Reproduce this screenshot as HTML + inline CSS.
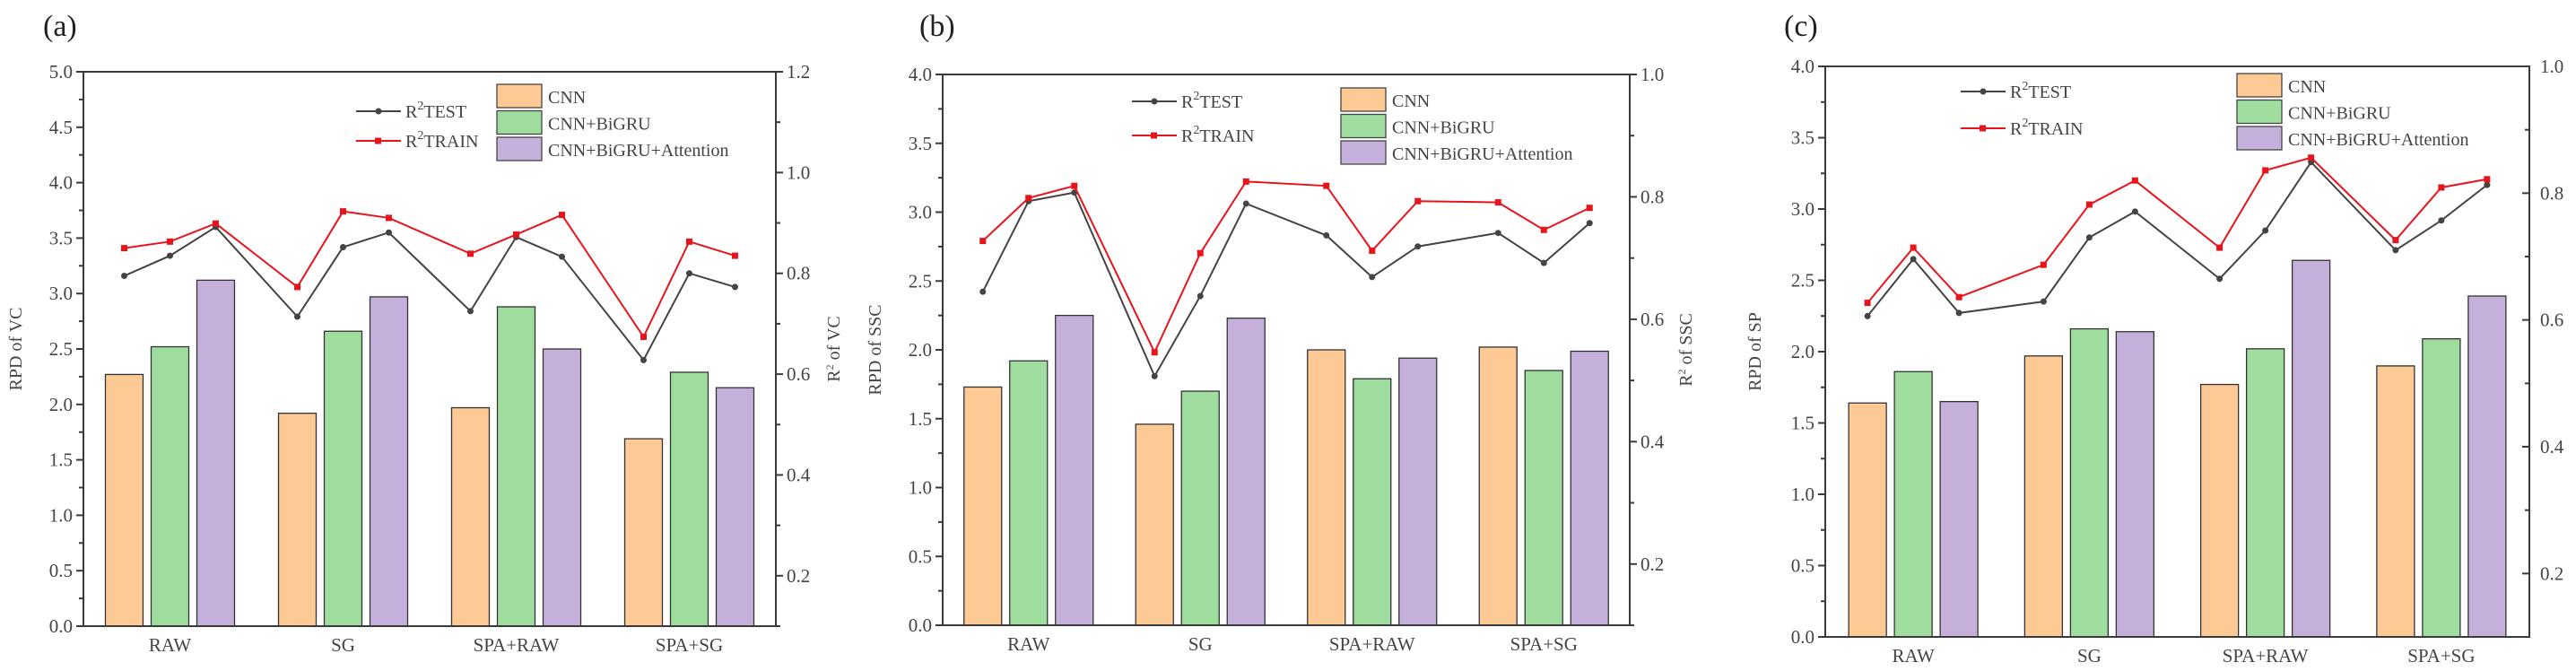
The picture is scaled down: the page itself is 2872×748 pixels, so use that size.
<!DOCTYPE html>
<html><head><meta charset="utf-8"><style>
html,body{margin:0;padding:0;background:#fff;}
svg{display:block;font-family:"Liberation Serif",serif;}
</style></head><body>
<svg id="chart" width="2872" height="748" viewBox="0 0 2872 748" xmlns="http://www.w3.org/2000/svg"></svg>
<script>
const categories = ["RAW","SG","SPA+RAW","SPA+SG"];
const seriesNames = ["CNN","CNN+BiGRU","CNN+BiGRU+Attention"];
// Panel a (VC)
const aCnn = [2.27,1.92,1.97,1.69];
const aBigru = [2.52,2.66,2.88,2.29];
const aAtt = [3.12,2.97,2.50,2.15];
const aTest = [0.795,0.835,0.892,0.714,0.852,0.881,0.725,0.872,0.833,0.628,0.800,0.773];
const aTrain = [0.850,0.863,0.899,0.773,0.923,0.910,0.839,0.877,0.916,0.674,0.863,0.835];
const aLeftTicks = ["0.0","0.5","1.0","1.5","2.0","2.5","3.0","3.5","4.0","4.5","5.0"];
const aRightTicks = ["0.2","0.4","0.6","0.8","1.0","1.2"];
// Panel b (SSC)
const bCnn = [1.73,1.46,2.00,2.02];
const bBigru = [1.92,1.70,1.79,1.85];
const bAtt = [2.25,2.23,1.94,1.99];
const bTest = [0.645,0.793,0.807,0.507,0.638,0.789,0.737,0.669,0.719,0.741,0.692,0.757];
const bTrain = [0.728,0.798,0.818,0.546,0.708,0.825,0.818,0.712,0.793,0.791,0.746,0.782];
const bLeftTicks = ["0.0","0.5","1.0","1.5","2.0","2.5","3.0","3.5","4.0"];
const bRightTicks = ["0.2","0.4","0.6","0.8","1.0"];
// Panel c (SP)
const cCnn = [1.64,1.97,1.77,1.90];
const cBigru = [1.86,2.16,2.02,2.09];
const cAtt = [1.65,2.14,2.64,2.39];
const cTest = [0.606,0.696,0.611,0.629,0.730,0.771,0.665,0.741,0.849,0.710,0.757,0.813];
const cTrain = [0.627,0.714,0.636,0.687,0.782,0.820,0.714,0.836,0.856,0.726,0.809,0.822];
const cLeftTicks = ["0.0","0.5","1.0","1.5","2.0","2.5","3.0","3.5","4.0"];
const cRightTicks = ["0.2","0.4","0.6","0.8","1.0"];

const NS="http://www.w3.org/2000/svg";
const svg=document.getElementById('chart');
function mk(tag,attrs,parent,text){const e=document.createElementNS(NS,tag);for(const k in attrs)e.setAttribute(k,attrs[k]);if(text!==undefined)e.textContent=text;(parent||svg).appendChild(e);return e;}
const colors=["#fdc994","#9edd9e","#c5b0dc"];
const AX="#3a3a3a", TXT="#444";

function panel(o){
  const g=mk('g',{});
  
  
  const L=o.left,R=o.right,T=o.top,B=o.bottom;
  const yL=v=>B-(v-0)/(o.lmax)*(B-T);
  const yR=v=>B-(v-o.rmin)/(o.rmax-o.rmin)*(B-T);
  const gw=(R-L)/categories.length;
  const xc=i=>L+gw*(i+0.5);
  const bw=42, step=51;
  const lab=mk('text',{x:o.labelX,y:40,'font-size':34,fill:'#222'},g,'('+o.id+')');
  
  
  const sets=[o.cnn,o.bigru,o.att];
  sets.forEach((arr,s)=>{arr.forEach((v,i)=>{
    const x=xc(i)+(s-1)*step-bw/2;
    const r=mk('rect',{x:x,y:yL(v),width:bw,height:B-yL(v),fill:colors[s],stroke:'#333','stroke-width':1.3},g);
    
    
  });});
  function line(arr,color,name,sq){
    const pts=arr.map((v,k)=>{const i=Math.floor(k/3),s=k%3;return [xc(i)+(s-1)*step,yR(v)];});
    const pl=mk('polyline',{points:pts.map(p=>p.join(',')).join(' '),fill:'none',stroke:color,'stroke-width':2},g);
    
    
    pts.forEach(p=>{
      const m=sq?mk('rect',{x:p[0]-3.5,y:p[1]-3.5,width:7,height:7,fill:color},g):mk('circle',{cx:p[0],cy:p[1],r:3.5,fill:color},g);
      
      
    });
  }
  line(o.test,'#444','r2-test',false);
  line(o.train,'#e8141c','r2-train',true);
  const fr=mk('rect',{x:L,y:T,width:R-L,height:B-T,fill:'none',stroke:AX,'stroke-width':2},g);
  
  
  o.lt.forEach((t,k)=>{
    const v=parseFloat(t),y=yL(v);
    mk('line',{x1:L-8,x2:L,y1:y,y2:y,stroke:AX,'stroke-width':2},g);
    if(k<o.lt.length-1){const ym=yL(v+0.25);mk('line',{x1:L-5,x2:L,y1:ym,y2:ym,stroke:AX,'stroke-width':2},g);}
    const tx=mk('text',{x:L-12,y:y+7,'font-size':21,fill:TXT,'text-anchor':'end'},g,t);
    
    
  });
  const dir=o.rightIn?-1:1;
  for(let v=o.rmin;v<=o.rmax+1e-6;v+=0.1){
    const y=yR(v);const major=Math.round(v*10)%2===0;
    mk('line',{x1:R,x2:R+dir*(major?8:5),y1:y,y2:y,stroke:AX,'stroke-width':2},g);
  }
  o.rt.forEach(t=>{const y=yR(parseFloat(t));
    const tx=mk('text',{x:R+12,y:y+7,'font-size':21,fill:TXT},g,t);
    
    });
  categories.forEach((c,i)=>{const tx=mk('text',{x:xc(i),y:B+28,'font-size':21,fill:TXT,'text-anchor':'middle'},g,c);
    
    });
  const my=(T+B)/2;
  const yt=mk('text',{x:0,y:0,'font-size':20,fill:TXT,'text-anchor':'middle',transform:`translate(${o.ltitleX},${my}) rotate(-90)`},g,o.ltitle);
  
  
  if(o.rtitleX){
    const rt=mk('text',{x:0,y:0,'font-size':20,fill:TXT,'text-anchor':'middle',transform:`translate(${o.rtitleX},${my}) rotate(-90)`},g);
    
    
    mk('tspan',{},rt,'R');mk('tspan',{'font-size':12,dy:-7},rt,'2');mk('tspan',{dy:7},rt,' of '+o.rname);
  }
  [[o.legTestY,'#444','TEST',false],[o.legTrainY,'#e8141c','TRAIN',true]].forEach(([y,c,n,sq])=>{
    const lg=mk('g',{},g);
    
    
    mk('line',{x1:o.legLineX,x2:o.legLineX+50,y1:y,y2:y,stroke:c,'stroke-width':2},lg);
    if(sq)mk('rect',{x:o.legLineX+21,y:y-3.5,width:7,height:7,fill:c},lg);else mk('circle',{cx:o.legLineX+25,cy:y,r:3.5,fill:c},lg);
    const t=mk('text',{x:o.legLineX+55,y:y+7,'font-size':20,fill:TXT},lg);
    mk('tspan',{},t,'R');mk('tspan',{'font-size':14,dy:-9},t,'2');mk('tspan',{dy:9},t,n);
  });
  seriesNames.forEach((n,s)=>{
    const y=o.legBoxY+s*29.5;
    const lg=mk('g',{},g);
    
    
    mk('rect',{x:o.legBoxX,y:y,width:50,height:26,fill:colors[s],stroke:'#444','stroke-width':1.3},lg);
    mk('text',{x:o.legBoxX+57,y:y+21,'font-size':20,fill:TXT},lg,n);
  });
}
panel({id:'a',left:93,right:865,top:80,bottom:698,lmax:5,rmin:0.1,rmax:1.2,cnn:aCnn,bigru:aBigru,att:aAtt,test:aTest,train:aTrain,lt:aLeftTicks,rt:aRightTicks,labelX:48,ltitleX:24,rtitleX:936,ltitle:'RPD of VC',rname:'VC',legLineX:397,legTestY:124,legTrainY:157,legBoxX:554,legBoxY:94});
panel({id:'b',left:1051,right:1817,top:83,bottom:697,lmax:4,rmin:0.1,rmax:1.0,cnn:bCnn,bigru:bBigru,att:bAtt,test:bTest,train:bTrain,lt:bLeftTicks,rt:bRightTicks,labelX:1025,ltitleX:982,rtitleX:1886,ltitle:'RPD of SSC',rname:'SSC',legLineX:1262,legTestY:113,legTrainY:151,legBoxX:1495,legBoxY:98});
panel({id:'c',left:2035,right:2820,top:74,bottom:710,lmax:4,rmin:0.1,rmax:1.0,rightIn:true,cnn:cCnn,bigru:cBigru,att:cAtt,test:cTest,train:cTrain,lt:cLeftTicks,rt:cRightTicks,labelX:1989,ltitleX:1963,rtitleX:0,ltitle:'RPD of SP',rname:'SP',legLineX:2186,legTestY:102,legTrainY:143,legBoxX:2494,legBoxY:82});
</script>
</body></html>
